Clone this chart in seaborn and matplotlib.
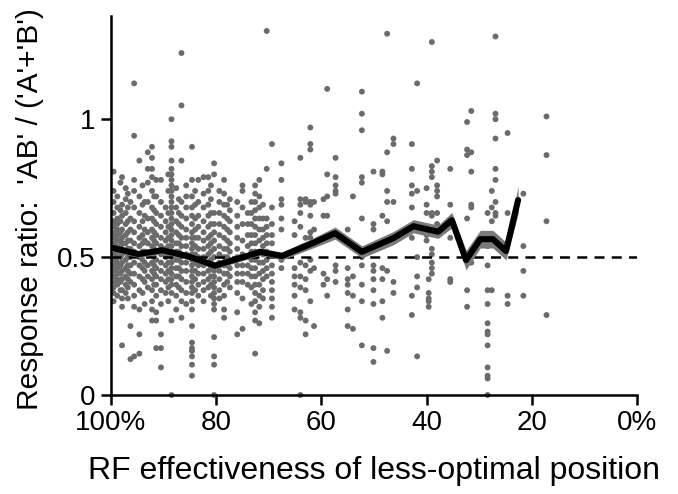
import numpy as np
import pandas as pd
import matplotlib
matplotlib.use("Agg")
import matplotlib.pyplot as plt
import seaborn as sns

# ---- data: scatter columns (RF effectiveness %, response ratios) ----
col_x = [99.5, 98.8, 97.9, 97.2, 96.3, 95.6, 94.6, 93.6, 93.0, 92.2,
         91.4, 90.5, 89.6, 88.5, 87.6, 86.6, 85.7, 84.6, 83.4, 82.4,
         81.5, 80.4, 79.4, 78.5, 77.4, 76.0, 75.0, 74.0, 72.6, 71.8,
         70.4, 69.4, 67.6, 65.1, 64.0, 63.0, 62.1, 61.4, 59.6, 58.9,
         57.3, 55.0, 54.0, 52.3, 50.1, 48.4, 47.5, 46.3, 42.8, 41.8,
         40.0, 39.6, 39.0, 38.0, 35.5, 32.3, 31.5, 28.4, 27.6, 26.9,
         24.6, 21.6, 17.2,
         98.2, 96.8, 94.0, 91.8, 89.1, 87.1, 84.0, 81.0, 77.9, 73.3, 71.1]
col_y = [
    [0.81, 0.74, 0.70, 0.66, 0.63, 0.61, 0.59, 0.57, 0.55, 0.53, 0.51, 0.49, 0.47, 0.45, 0.43, 0.41, 0.39, 0.37, 0.34],
    [0.72, 0.68, 0.64, 0.62, 0.60, 0.58, 0.56, 0.54, 0.52, 0.50, 0.48, 0.46, 0.44, 0.42, 0.40, 0.36],
    [0.79, 0.69, 0.65, 0.60, 0.57, 0.55, 0.53, 0.51, 0.48, 0.45, 0.42, 0.38, 0.35, 0.32, 0.18],
    [0.75, 0.71, 0.66, 0.62, 0.58, 0.55, 0.52, 0.49, 0.46, 0.43, 0.40, 0.37],
    [0.70, 0.64, 0.60, 0.56, 0.53, 0.50, 0.47, 0.44, 0.41, 0.25, 0.13],
    [1.13, 0.94, 0.78, 0.74, 0.68, 0.63, 0.59, 0.55, 0.52, 0.48, 0.44, 0.40, 0.36, 0.32, 0.14],
    [0.85, 0.72, 0.66, 0.61, 0.57, 0.54, 0.50, 0.47, 0.43, 0.38, 0.31, 0.22, 0.15],
    [0.70, 0.65, 0.60, 0.56, 0.52, 0.48, 0.45, 0.41, 0.33],
    [0.88, 0.82, 0.77, 0.70, 0.64, 0.59, 0.55, 0.51, 0.47, 0.43, 0.39],
    [0.90, 0.86, 0.82, 0.79, 0.74, 0.68, 0.64, 0.60, 0.57, 0.54, 0.51, 0.48, 0.45, 0.42, 0.38, 0.34, 0.31, 0.27],
    [0.78, 0.72, 0.66, 0.62, 0.58, 0.55, 0.52, 0.49, 0.46, 0.43, 0.40, 0.36, 0.30, 0.27, 0.17],
    [0.78, 0.70, 0.65, 0.61, 0.57, 0.54, 0.51, 0.48, 0.45, 0.42, 0.38, 0.33, 0.22, 0.17, 0.10],
    [0.68, 0.63, 0.59, 0.56, 0.53, 0.50, 0.47, 0.44, 0.41, 0.37],
    [1.00, 0.92, 0.90, 0.85, 0.82, 0.80, 0.78, 0.76, 0.74, 0.72, 0.70, 0.68, 0.66, 0.64, 0.62, 0.60, 0.58, 0.56,
     0.54, 0.52, 0.50, 0.48, 0.46, 0.44, 0.42, 0.40, 0.37, 0.27, 0.0],
    [0.75, 0.68, 0.63, 0.59, 0.55, 0.52, 0.49, 0.46, 0.43, 0.40, 0.36, 0.31],
    [1.24, 1.05, 0.85, 0.70, 0.65, 0.61, 0.57, 0.54, 0.51, 0.48, 0.45, 0.42, 0.38, 0.34, 0.28],
    [0.76, 0.72, 0.68, 0.64, 0.60, 0.57, 0.54, 0.51, 0.48, 0.45, 0.41, 0.37, 0.33],
    [0.90, 0.78, 0.72, 0.68, 0.65, 0.62, 0.59, 0.57, 0.55, 0.53, 0.51, 0.49, 0.47, 0.45, 0.43, 0.41, 0.39, 0.37,
     0.34, 0.31, 0.25, 0.19, 0.17, 0.16, 0.14, 0.11, 0.07],
    [0.78, 0.70, 0.65, 0.61, 0.57, 0.53, 0.50, 0.47, 0.44, 0.40, 0.36],
    [0.79, 0.73, 0.68, 0.63, 0.59, 0.56, 0.53, 0.50, 0.47, 0.44, 0.41, 0.38, 0.34],
    [0.79, 0.74, 0.69, 0.65, 0.61, 0.57, 0.54, 0.51, 0.48, 0.45, 0.42, 0.39],
    [0.84, 0.80, 0.66, 0.62, 0.59, 0.56, 0.53, 0.50, 0.47, 0.45, 0.43, 0.41, 0.39, 0.37, 0.35, 0.33, 0.31, 0.21,
     0.14, 0.11, 0.0],
    [0.74, 0.70, 0.66, 0.62, 0.58, 0.54, 0.51, 0.48, 0.45, 0.42, 0.38, 0.35],
    [0.78, 0.73, 0.69, 0.65, 0.61, 0.57, 0.53, 0.50, 0.47, 0.44, 0.40, 0.36, 0.31, 0.28],
    [0.71, 0.67, 0.63, 0.59, 0.55, 0.52, 0.49, 0.46, 0.43, 0.39],
    [0.70, 0.65, 0.61, 0.57, 0.53, 0.50, 0.47, 0.44, 0.41, 0.37, 0.30, 0.22],
    [0.76, 0.74, 0.68, 0.62, 0.56, 0.51, 0.47, 0.44, 0.41, 0.35, 0.24],
    [0.66, 0.62, 0.58, 0.54, 0.50, 0.47, 0.44, 0.40],
    [0.76, 0.73, 0.70, 0.67, 0.64, 0.61, 0.58, 0.55, 0.52, 0.49, 0.46, 0.43, 0.40, 0.37, 0.34, 0.30, 0.27, 0.15],
    [0.78, 0.72, 0.68, 0.64, 0.60, 0.56, 0.52, 0.48, 0.44, 0.40, 0.36, 0.32, 0.26],
    [1.32, 0.82, 0.64, 0.61, 0.58, 0.55, 0.52, 0.49, 0.46, 0.43],
    [0.91, 0.68, 0.62, 0.58, 0.55, 0.51, 0.47, 0.44, 0.41, 0.38, 0.35, 0.32, 0.28],
    [0.84, 0.78, 0.71, 0.69, 0.64, 0.60, 0.49, 0.46],
    [0.63, 0.58, 0.46, 0.43, 0.40, 0.36, 0.31],
    [0.86, 0.71, 0.69, 0.66, 0.61, 0.48, 0.43, 0.39, 0.30, 0.28, 0.0],
    [0.71, 0.70, 0.57, 0.47, 0.42, 0.38, 0.27, 0.22],
    [0.97, 0.91, 0.89, 0.70, 0.69, 0.65, 0.59, 0.57, 0.49, 0.45, 0.34],
    [0.70, 0.60, 0.46, 0.25],
    [0.71, 0.65, 0.44, 0.40],
    [1.11, 0.80, 0.72, 0.65, 0.42, 0.36],
    [0.86, 0.79, 0.76, 0.74, 0.73, 0.47, 0.45, 0.41],
    [0.60, 0.46, 0.42, 0.40, 0.37, 0.31, 0.25],
    [0.72, 0.43, 0.36, 0.24],
    [1.10, 1.02, 0.96, 0.79, 0.77, 0.64, 0.50, 0.47, 0.40, 0.34, 0.18],
    [0.81, 0.62, 0.60, 0.47, 0.45, 0.42, 0.38, 0.33, 0.17, 0.12],
    [0.81, 0.80, 0.65, 0.46, 0.42, 0.34, 0.28],
    [1.31, 0.88, 0.74, 0.70, 0.63, 0.45, 0.16],
    [0.93, 0.91, 0.70, 0.41, 0.37],
    [0.91, 0.82, 0.76, 0.73, 0.68, 0.57, 0.36, 0.29],
    [1.13, 0.74, 0.50, 0.43, 0.39, 0.14],
    [0.75, 0.69, 0.66, 0.58, 0.56],
    [0.42, 0.37, 0.35, 0.34, 0.32],
    [1.28, 0.83, 0.81, 0.79, 0.66, 0.65, 0.53, 0.51, 0.48, 0.46, 0.44],
    [0.85, 0.76, 0.74, 0.72, 0.66, 0.62, 0.61],
    [0.82, 0.69, 0.57, 0.42, 0.41],
    [0.99, 0.89, 0.87, 0.64, 0.38, 0.32],
    [1.03, 0.88, 0.81, 0.69, 0.68, 0.48],
    [0.66, 0.54, 0.47, 0.38, 0.33, 0.26, 0.23, 0.22, 0.18, 0.10, 0.07, 0.06, 0.0],
    [0.74, 0.68, 0.63, 0.38],
    [1.30, 1.02, 1.00, 0.93, 0.82, 0.78, 0.70, 0.66, 0.65],
    [0.95, 0.66, 0.36, 0.33],
    [0.73, 0.54, 0.45, 0.36],
    [1.01, 0.87, 0.63, 0.29],
    [0.77, 0.67, 0.63, 0.59, 0.56, 0.53, 0.50, 0.47, 0.44, 0.41, 0.38],
    [0.73, 0.68, 0.63, 0.59, 0.56, 0.53, 0.50, 0.47, 0.45, 0.42, 0.39, 0.35],
    [0.76, 0.69, 0.63, 0.58, 0.55, 0.52, 0.49, 0.46, 0.42, 0.37],
    [0.72, 0.67, 0.63, 0.59, 0.56, 0.53, 0.50, 0.47, 0.44, 0.40],
    [0.80, 0.74, 0.66, 0.61, 0.57, 0.54, 0.51, 0.48, 0.45, 0.42, 0.39, 0.34],
    [0.71, 0.66, 0.62, 0.58, 0.55, 0.52, 0.49, 0.46, 0.43, 0.39],
    [0.74, 0.69, 0.64, 0.60, 0.57, 0.54, 0.51, 0.48, 0.45, 0.42, 0.38],
    [0.76, 0.71, 0.66, 0.62, 0.58, 0.55, 0.52, 0.49, 0.46, 0.43, 0.40, 0.36],
    [0.69, 0.64, 0.60, 0.56, 0.53, 0.50, 0.47, 0.44, 0.41],
    [0.70, 0.66, 0.62, 0.58, 0.55, 0.52, 0.49, 0.46, 0.43, 0.39, 0.33],
    [0.69, 0.64, 0.60, 0.57, 0.54, 0.51, 0.48, 0.45, 0.42, 0.38, 0.35],
]

# ---- data: mean line with error band ----
mean_x = [99.8, 94.8, 90.3, 85.5, 80.2, 71.6, 67.5, 61.5, 57.4, 52.3,
          46.3, 42.5, 37.8, 35.2, 32.5, 29.8, 27.4, 24.9, 22.6]
mean_y = [0.534, 0.511, 0.525, 0.504, 0.469, 0.519, 0.504, 0.552, 0.587, 0.519,
          0.569, 0.612, 0.592, 0.634, 0.489, 0.565, 0.565, 0.522, 0.707]
mean_err = [0.012, 0.012, 0.012, 0.012, 0.012, 0.012, 0.014, 0.018, 0.022, 0.022,
            0.024, 0.024, 0.024, 0.028, 0.035, 0.032, 0.032, 0.032, 0.05]

xticks = [100, 80, 60, 40, 20, 0]
xticklabels = ['100%', '80', '60', '40', '20', '0%']
yticks = [0, 0.5, 1]
yticklabels = ['0', '0.5', '1']

pts = pd.DataFrame({
    'x': [cx for cx, ys in zip(col_x, col_y) for _ in ys],
    'y': [v for ys in col_y for v in ys],
})
line = pd.DataFrame({'x': mean_x, 'y': mean_y, 'e': mean_err})

sns.set_style("ticks")
plt.rcParams['font.family'] = ['Liberation Sans', 'DejaVu Sans']
for k in ['text.color', 'axes.labelcolor', 'xtick.color', 'ytick.color']:
    plt.rcParams[k] = 'black'

fig = plt.figure(figsize=(6.78, 4.94), dpi=100)
ax = fig.add_axes([0.1637, 0.2004, 0.7758, 0.7676])

sns.scatterplot(data=pts, x='x', y='y', ax=ax, color='#6b6b6b', s=18,
                edgecolor='none', linewidth=0, clip_on=False, zorder=2)
ax.axhline(0.5, color='black', lw=1.8, linestyle=(0, (4.0, 2.9)), zorder=3)
ax.fill_between(line['x'], line['y'] - line['e'], line['y'] + line['e'],
                color='#7a7a7a', lw=0, zorder=4)
sns.lineplot(data=line, x='x', y='y', ax=ax, color='black', lw=4.4,
             zorder=5, sort=False)

ax.set_xlim(100, 0)
ax.set_ylim(0, 1.375)
ax.set_xticks(xticks)
ax.set_xticklabels(xticklabels)
ax.set_yticks(yticks)
ax.set_yticklabels(yticklabels)
ax.set_xlabel('RF effectiveness of less-optimal position', fontsize=23, labelpad=14)
ax.set_ylabel("Response ratio:  'AB' / ('A'+'B')", fontsize=21.5, labelpad=6)
ax.yaxis.set_label_coords(-0.128, 0.49)
ax.tick_params(axis='both', labelsize=20, length=7, width=1.8, direction='out',
               color='black', pad=4)
for s in ['top', 'right']:
    ax.spines[s].set_visible(False)
for s in ['left', 'bottom']:
    ax.spines[s].set_linewidth(1.8)
    ax.spines[s].set_color('black')

fig.savefig('out.png', dpi=100)
